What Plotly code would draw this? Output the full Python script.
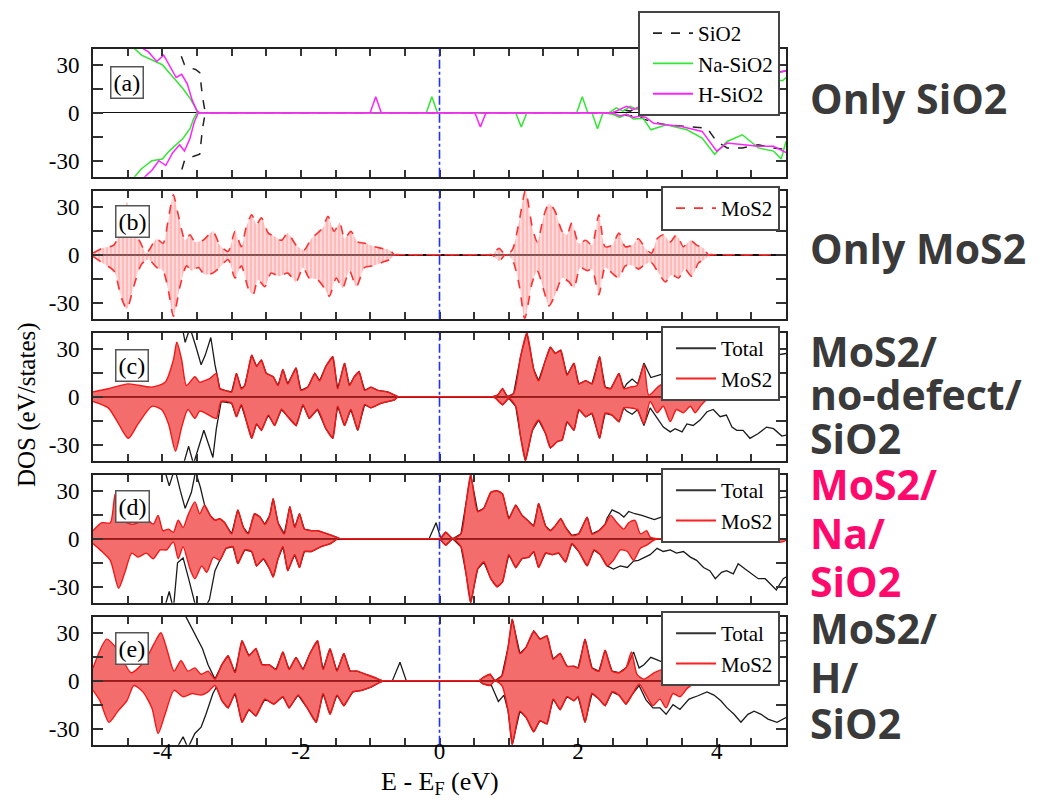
import plotly.graph_objects as go

# ---------------- axis ticks ----------------
x_tick_vals = [-5, -4.5, -4, -3.5, -3, -2.5, -2, -1.5, -1, -0.5, 0, 0.5, 1, 1.5, 2, 2.5, 3, 3.5, 4, 4.5, 5]
x_tick_text = ["", "", "-4", "", "", "", "-2", "", "", "", "0", "", "", "", "2", "", "", "", "4", "", ""]
y_tick_vals = [-30, -15, 0, 15, 30]
y_tick_text = ["-30", "", "0", "", "30"]
panel_labels = ["(a)", "(b)", "(c)", "(d)", "(e)"]
side_text = [
    ["Only SiO2"],
    ["Only MoS2"],
    ["MoS2/", "no-defect/", "SiO2"],
    ["MoS2/", "Na/", "SiO2"],
    ["MoS2/", "H/", "SiO2"],
]

# ---------------- panel (a): SiO2 slabs (E, DOS) ----------------
a_sio2_up = [(-5.0, 70), (-3.82, 45), (-3.75, 38), (-3.68, 30), (-3.60, 28), (-3.52, 27), (-3.46, 25),
             (-3.42, 10), (-3.38, 0), (2.5, 0), (2.62, 2), (2.75, 1), (2.85, 3), (2.95, 6), (3.1, 10),
             (3.3, 12), (3.6, 14), (3.9, 18), (4.2, 22), (4.6, 24), (5.0, 26)]
a_sio2_dn = [(-5.0, -70), (-3.82, -45), (-3.75, -40), (-3.68, -30), (-3.60, -28), (-3.52, -27), (-3.46, -26),
             (-3.42, -10), (-3.38, 0), (2.5, 0), (2.62, -1), (2.75, -2), (2.85, -1), (2.95, -4), (3.05, -5.5),
             (3.27, -7.6), (3.57, -8.6), (3.86, -9.6), (4.0, -18), (4.15, -22), (4.37, -22), (4.6, -20),
             (4.82, -22), (5.0, -23)]
a_na_up = [(-5.0, 70), (-4.45, 42), (-4.3, 36), (-4.15, 33), (-4.0, 30), (-3.9, 25), (-3.8, 20), (-3.7, 15),
           (-3.6, 9), (-3.52, 3), (-3.48, 0), (-0.19, 0), (-0.11, 10), (-0.03, 0), (1.98, 0), (2.06, 10),
           (2.14, 0), (2.45, 0), (2.55, 3), (2.65, 1), (2.75, 4), (2.85, 2), (2.95, 5), (3.1, 9), (3.4, 12),
           (3.8, 16), (4.2, 20), (4.6, 22), (4.95, 20), (5.0, 22)]
a_na_dn = [(-5.0, -70), (-4.45, -42), (-4.3, -35), (-4.15, -30), (-4.0, -29), (-3.9, -24), (-3.8, -20),
           (-3.7, -16), (-3.6, -10), (-3.55, -4), (-3.5, 0), (1.10, 0), (1.18, -9), (1.26, 0), (2.20, 0),
           (2.28, -10), (2.36, 0), (2.5, -1), (2.6, -3), (2.7, -1), (2.8, -4), (2.94, -3.5), (3.05, -10.7),
           (3.27, -7.6), (3.57, -10.7), (3.79, -15.8), (3.97, -26), (4.15, -18), (4.37, -13.8), (4.6, -22),
           (4.82, -24), (4.93, -29), (5.0, -18)]
a_h_up = [(-5.0, 70), (-4.35, 42), (-4.2, 38), (-4.08, 32), (-3.98, 36), (-3.88, 28), (-3.80, 22), (-3.72, 24),
          (-3.64, 18), (-3.57, 8), (-3.50, 1), (-3.46, 0), (-1.00, 0), (-0.92, 10), (-0.84, 0), (2.5, 0),
          (2.6, 2), (2.7, 4), (2.8, 2), (2.9, 4), (3.0, 6), (3.2, 10), (3.5, 12), (3.9, 18), (4.3, 22),
          (4.7, 24), (5.0, 26)]
a_h_dn = [(-5.0, -70), (-4.3, -42), (-4.15, -36), (-4.05, -30), (-3.95, -33), (-3.85, -25), (-3.75, -20),
          (-3.68, -24), (-3.6, -16), (-3.54, -6), (-3.48, 0), (0.51, 0), (0.59, -9), (0.67, 0), (2.5, 0),
          (2.6, -2), (2.7, -1), (2.8, -3), (2.9, -2), (2.98, -3), (3.09, -6.6), (3.27, -7.6), (3.49, -8.6),
          (3.79, -11.7), (4.0, -24), (4.15, -19), (4.37, -20), (4.6, -21), (4.82, -21), (5.0, -25)]

# ---------------- panel (b): isolated MoS2 ----------------
b_mos2_up = [(-5.0, 1), (-4.87, 4), (-4.70, 6), (-4.59, 17), (-4.51, 33), (-4.42, 15.6), (-4.32, 8), (-4.23, 1),
             (-4.08, 10), (-3.99, 7), (-3.91, 23), (-3.84, 37.5), (-3.77, 25), (-3.67, 9), (-3.60, 12.5),
             (-3.53, 8), (-3.41, 9), (-3.27, 14.6), (-3.17, 6), (-3.05, 2), (-2.95, 14.6), (-2.86, 5),
             (-2.79, 17), (-2.71, 25), (-2.64, 19), (-2.57, 23), (-2.47, 13.5), (-2.38, 11.5), (-2.28, 9),
             (-2.19, 13.5), (-2.07, 6), (-1.95, 3), (-1.85, 10), (-1.76, 13.5), (-1.68, 17), (-1.61, 24),
             (-1.52, 14.6), (-1.44, 20), (-1.37, 10), (-1.28, 14.6), (-1.18, 8), (-1.06, 7), (-0.94, 5),
             (-0.84, 4), (-0.72, 3), (-0.65, 0), (-0.60, 0),
             (0.71, 0), (0.76, 0), (0.86, 4), (0.95, 0), (1.05, 3), (1.15, 21), (1.24, 40), (1.34, 17),
             (1.41, 8), (1.51, 25), (1.58, 32), (1.67, 27), (1.77, 14.6), (1.84, 12.5), (1.91, 20), (2.01, 7),
             (2.11, 9), (2.20, 6), (2.30, 25), (2.39, 5), (2.49, 6), (2.59, 13.5), (2.68, 5), (2.78, 6),
             (2.87, 10), (2.97, 4), (3.06, 1), (3.14, 10), (3.23, 12.5), (3.33, 8), (3.42, 12.5), (3.52, 5),
             (3.62, 9), (3.71, 6), (3.81, 4), (3.88, 0), (3.93, 0), (5.0, 0)]
b_mos2_dn = [(-5.0, -1), (-4.87, -5), (-4.70, -10), (-4.59, -27), (-4.51, -34), (-4.42, -21), (-4.30, -6),
             (-4.20, -3), (-4.08, -8), (-3.99, -10), (-3.91, -23), (-3.84, -38.5), (-3.74, -19), (-3.65, -7),
             (-3.58, -10), (-3.48, -8), (-3.39, -12.5), (-3.27, -11.5), (-3.17, -8), (-3.05, -3), (-2.95, -14.6),
             (-2.86, -7), (-2.76, -21), (-2.69, -25), (-2.62, -15.6), (-2.52, -20), (-2.43, -11.5),
             (-2.31, -13.5), (-2.19, -11.5), (-2.07, -17), (-1.97, -8), (-1.88, -14.6), (-1.76, -15.6),
             (-1.66, -21), (-1.59, -26), (-1.49, -14.6), (-1.40, -21), (-1.30, -10), (-1.20, -20), (-1.08, -8),
             (-0.96, -7), (-0.84, -5), (-0.72, -3), (-0.63, 0), (-0.58, 0),
             (0.71, 0), (0.76, 0), (0.86, -4), (0.95, 0), (1.05, -3), (1.15, -19), (1.23, -40), (1.34, -17),
             (1.41, -10), (1.51, -23), (1.58, -32), (1.67, -25), (1.77, -14.6), (1.87, -17), (1.94, -21),
             (2.03, -8), (2.13, -10), (2.20, -9), (2.30, -25), (2.39, -8), (2.49, -11.5), (2.59, -14.6),
             (2.68, -7), (2.80, -7), (2.87, -9), (2.97, -6), (3.06, -5), (3.16, -11.5), (3.26, -17),
             (3.35, -12.5), (3.45, -14.6), (3.54, -9), (3.64, -13.5), (3.74, -5), (3.83, -3), (3.90, 0),
             (3.95, 0), (5.0, 0)]

# ---------------- panel (c): MoS2 / no-defect / SiO2 ----------------
c_mos2_up = [(-5.0, 3), (-4.78, 5), (-4.49, 8), (-4.15, 6), (-3.96, 9), (-3.84, 23), (-3.79, 34), (-3.72, 23),
             (-3.65, 7), (-3.53, 12.5), (-3.46, 9), (-3.39, 10), (-3.31, 11.5), (-3.22, 14.6), (-3.17, 5),
             (-3.10, 4), (-3.00, 3), (-2.93, 14.6), (-2.86, 5), (-2.81, 7), (-2.71, 26), (-2.64, 19),
             (-2.57, 23), (-2.50, 14.6), (-2.40, 12.5), (-2.33, 7), (-2.26, 17), (-2.19, 8), (-2.07, 18),
             (-2.00, 4), (-1.90, 6), (-1.80, 14.6), (-1.73, 10), (-1.64, 19), (-1.54, 25), (-1.47, 5),
             (-1.37, 21), (-1.30, 7), (-1.23, 12.5), (-1.16, 15.6), (-1.08, 4), (-0.99, 6), (-0.89, 4),
             (-0.75, 3), (-0.65, 1), (-0.60, 0), (-0.55, 0),
             (0.72, 0), (0.77, 0), (0.84, 1), (0.91, 5), (0.98, 0), (1.07, 2), (1.17, 25), (1.26, 40),
             (1.36, 17), (1.43, 10), (1.53, 23), (1.60, 31), (1.67, 27), (1.75, 29), (1.84, 13.5), (1.94, 21),
             (2.01, 8), (2.11, 10), (2.20, 8), (2.31, 25), (2.39, 6), (2.47, 5), (2.59, 14.6), (2.66, 5),
             (2.75, 6), (2.85, 7), (2.95, 20), (3.02, 1), (3.15, 6), (3.3, 10), (3.45, 6), (3.6, 8), (3.75, 4),
             (3.9, 1), (3.95, 0), (4.0, 0), (5.0, 0)]
c_mos2_dn = [(-5.0, -3), (-4.78, -7), (-4.63, -17), (-4.49, -26), (-4.35, -17), (-4.15, -6), (-4.01, -8),
             (-3.91, -17), (-3.81, -34), (-3.72, -19), (-3.63, -8), (-3.53, -13.5), (-3.46, -9), (-3.39, -10),
             (-3.29, -12.5), (-3.22, -13.5), (-3.15, -3), (-3.00, -4), (-2.93, -12.5), (-2.86, -5), (-2.71, -26),
             (-2.64, -17), (-2.57, -21), (-2.47, -11.5), (-2.38, -18), (-2.28, -8), (-2.19, -12.5), (-2.07, -18),
             (-1.97, -5), (-1.88, -13.5), (-1.76, -8), (-1.64, -20), (-1.54, -26), (-1.47, -6), (-1.37, -18),
             (-1.28, -8), (-1.18, -21), (-1.08, -5), (-0.99, -7), (-0.84, -4), (-0.65, -2), (-0.60, 0),
             (-0.55, 0),
             (0.72, 0), (0.77, 0), (0.81, -1), (0.91, -5), (1.00, -1), (1.10, -6), (1.17, -25), (1.24, -40),
             (1.34, -21), (1.43, -14.6), (1.53, -23), (1.60, -32), (1.70, -28), (1.77, -27), (1.84, -15.6),
             (1.94, -21), (2.01, -8), (2.11, -12.5), (2.20, -10.4), (2.31, -26), (2.39, -10.4), (2.49, -11.5),
             (2.59, -15.6), (2.66, -7), (2.75, -7), (2.85, -8), (2.95, -17), (3.04, -3), (3.14, -10),
             (3.23, -6), (3.33, -15.6), (3.42, -8), (3.52, -10), (3.62, -6), (3.69, -10), (3.78, -5),
             (3.88, -1), (3.95, 0), (4.0, 0), (5.0, 0)]
c_total_up = [(-5.0, 80), (-3.80, 48), (-3.72, 45), (-3.67, 34), (-3.60, 43), (-3.52, 32), (-3.44, 20),
              (-3.38, 26), (-3.30, 37), (-3.24, 20), (-3.18, 6),
              (2.70, 8), (2.78, 11), (2.86, 8), (2.95, 21), (3.05, 12), (3.2, 14), (3.4, 18), (3.6, 16),
              (3.8, 20), (4.0, 22), (4.3, 25), (4.6, 24), (5.0, 27)]
c_total_up_same_as_mos2 = [(-3.17, 2.69)]
c_total_dn = [(-5.0, -80), (-3.80, -48), (-3.70, -43), (-3.62, -31), (-3.55, -42), (-3.45, -28), (-3.40, -21),
              (-3.33, -30), (-3.27, -38), (-3.22, -20), (-3.17, -6),
              (2.70, -9), (2.78, -11), (2.86, -8), (2.95, -18), (3.04, -7), (3.14, -13), (3.23, -19),
              (3.33, -22), (3.40, -20), (3.50, -22), (3.57, -17), (3.66, -18), (3.76, -14.6), (3.86, -9.4),
              (3.95, -8), (4.05, -12.5), (4.14, -11.5), (4.22, -19), (4.29, -21), (4.38, -21), (4.48, -26),
              (4.60, -23), (4.72, -19), (4.82, -20), (4.94, -24.6), (5.0, -24)]
c_total_dn_same_as_mos2 = [(-3.16, 2.69)]

# ---------------- panel (d): MoS2 / Na / SiO2 ----------------
d_mos2_up = [(-5.0, 5), (-4.87, 10), (-4.75, 10), (-4.68, 28), (-4.59, 12), (-4.44, 9), (-4.35, 10),
             (-4.23, 12.5), (-4.13, 9), (-4.06, 14.6), (-3.99, 5), (-3.91, 6), (-3.84, 4), (-3.77, 11.5),
             (-3.70, 7), (-3.63, 14.6), (-3.53, 23), (-3.46, 15.6), (-3.39, 21), (-3.31, 14.6), (-3.24, 11.5),
             (-3.17, 12.5), (-3.10, 10), (-3.00, 3), (-2.91, 18), (-2.83, 7), (-2.76, 3), (-2.67, 15.6),
             (-2.59, 13.5), (-2.52, 9), (-2.45, 14.6), (-2.40, 25), (-2.33, 10), (-2.24, 3), (-2.16, 20),
             (-2.09, 7), (-2.02, 15.6), (-1.95, 6), (-1.85, 5), (-1.76, 5), (-1.61, 3), (-1.49, 1), (-1.44, 0),
             (-1.39, 0),
             (-0.05, 0), (0.0, 0), (0.09, 4), (0.19, 0), (0.31, 3), (0.38, 21), (0.45, 40), (0.55, 17),
             (0.64, 19), (0.74, 29), (0.83, 30), (0.91, 28), (1.00, 12.5), (1.10, 21), (1.19, 14.6),
             (1.27, 11.5), (1.36, 8), (1.43, 22), (1.53, 8), (1.60, 5), (1.67, 8), (1.75, 12.5), (1.82, 7),
             (1.91, 2), (2.01, 3), (2.13, 13.5), (2.20, 3), (2.30, 5), (2.39, 9), (2.47, 14.6), (2.56, 10),
             (2.66, 6), (2.73, 10), (2.82, 11.5), (2.90, 3), (2.99, 5), (3.04, 1), (3.15, 0), (3.2, 0),
             (5.0, 0)]
d_mos2_dn = [(-5.0, -3), (-4.87, -8), (-4.75, -13.5), (-4.63, -31), (-4.54, -21), (-4.44, -9), (-4.35, -11.5),
             (-4.23, -9), (-4.13, -12.5), (-4.03, -7), (-3.94, -7), (-3.84, -2), (-3.77, -12.5), (-3.70, -5),
             (-3.60, -19), (-3.53, -25), (-3.43, -17), (-3.36, -21), (-3.26, -11.5), (-3.17, -13.5),
             (-3.08, -6), (-2.98, -5), (-2.91, -15.6), (-2.81, -7), (-2.71, -8), (-2.64, -17), (-2.54, -12.5),
             (-2.45, -19), (-2.40, -24), (-2.33, -12.5), (-2.26, -5), (-2.19, -20), (-2.09, -10), (-2.02, -18),
             (-1.95, -8), (-1.85, -8), (-1.71, -5), (-1.57, -3), (-1.47, 0), (-1.42, 0),
             (-0.05, 0), (0.0, 0), (0.09, -4), (0.19, 0), (0.31, -5), (0.38, -21), (0.45, -40), (0.55, -19),
             (0.64, -14.6), (0.74, -25), (0.83, -30), (0.91, -27), (1.00, -10), (1.10, -18), (1.19, -12.5),
             (1.29, -11.5), (1.36, -8), (1.43, -18), (1.53, -9), (1.63, -10), (1.72, -9), (1.82, -14.6),
             (1.91, -3), (2.01, -8), (2.13, -17), (2.23, -7), (2.32, -10), (2.42, -17), (2.51, -13.5),
             (2.61, -7), (2.71, -8), (2.80, -13.5), (2.90, -6), (2.99, -4), (3.09, -1), (3.15, 0), (3.2, 0),
             (4.70, 0), (4.75, 0), (4.85, -2), (4.95, -2), (5.0, -1)]
d_total_up = [(-5.0, 75), (-3.98, 45), (-3.90, 33), (-3.82, 44), (-3.74, 30), (-3.67, 19), (-3.58, 29),
              (-3.52, 42), (-3.45, 32), (-3.40, 22),
              (-0.15, 0), (-0.05, 10), (0.02, 0),
              (2.42, 13), (2.49, 18), (2.59, 16), (2.66, 13.5), (2.73, 17), (2.82, 15.6), (2.92, 14.6),
              (2.99, 13.5), (3.1, 12), (3.3, 15), (3.6, 18), (3.9, 20), (4.2, 22), (4.6, 24), (5.0, 26)]
d_total_up_same_as_mos2 = [(-3.39, -0.16), (0.03, 2.41)]
d_total_dn = [(-5.0, -75), (-3.98, -45), (-3.90, -33), (-3.84, -44), (-3.78, -15), (-3.70, -12), (-3.62, -25),
              (-3.52, -42), (-3.42, -46), (-3.32, -38), (-3.24, -20), (-3.18, -14),
              (2.51, -19), (2.61, -17), (2.71, -18), (2.80, -14), (2.87, -13.5), (2.95, -12), (3.04, -10),
              (3.14, -6), (3.23, -8), (3.33, -7), (3.42, -9), (3.52, -8), (3.62, -11.5), (3.71, -13.5),
              (3.81, -18), (3.90, -20), (3.98, -25), (4.07, -21), (4.14, -20), (4.24, -22), (4.31, -15.6),
              (4.41, -19), (4.50, -22), (4.60, -25), (4.70, -25), (4.77, -28), (4.86, -32), (4.96, -25),
              (5.0, -24)]
d_total_dn_same_as_mos2 = [(-3.17, 2.45)]

# ---------------- panel (e): MoS2 / H / SiO2 ----------------
e_mos2_up = [(-5.0, 8), (-4.80, 26), (-4.64, 19), (-4.45, 5), (-4.25, 12.5), (-4.12, 23), (-4.02, 30),
             (-3.93, 19), (-3.83, 6), (-3.73, 12.5), (-3.63, 6), (-3.53, 8), (-3.44, 4), (-3.34, 6), (-3.24, 1),
             (-3.14, 10), (-3.05, 15.6), (-2.95, 5), (-2.85, 25), (-2.75, 15.6), (-2.65, 20), (-2.56, 10),
             (-2.46, 10), (-2.36, 7), (-2.26, 18), (-2.17, 7), (-2.07, 14.6), (-1.97, 7), (-1.87, 17),
             (-1.76, 25), (-1.68, 7), (-1.58, 20), (-1.48, 6), (-1.38, 17), (-1.29, 6), (-1.19, 6), (-1.06, 4),
             (-0.93, 2), (-0.83, 0), (-0.78, 0),
             (0.52, 0), (0.57, 0), (0.63, 2), (0.73, 4), (0.80, 0), (0.90, 3), (0.99, 21), (1.05, 38.5),
             (1.16, 17), (1.25, 21), (1.36, 31), (1.45, 26), (1.55, 28), (1.64, 13.5), (1.74, 17), (1.84, 9),
             (1.94, 9), (2.00, 8), (2.10, 26), (2.20, 8), (2.30, 6), (2.39, 19), (2.49, 6), (2.59, 5),
             (2.69, 8), (2.77, 18), (2.85, 4), (2.95, 1), (3.1, 5), (3.3, 8), (3.5, 5), (3.7, 2), (3.75, 0),
             (3.8, 0), (5.0, 0)]
e_mos2_dn = [(-5.0, -6), (-4.90, -12.5), (-4.77, -26), (-4.64, -19), (-4.51, -12.5), (-4.41, -3), (-4.28, -7),
             (-4.15, -17), (-4.06, -33), (-3.96, -21), (-3.83, -6), (-3.70, -10), (-3.57, -8), (-3.44, -9),
             (-3.34, -7), (-3.24, -3), (-3.14, -12.5), (-3.05, -17), (-2.95, -8), (-2.85, -26), (-2.75, -18),
             (-2.65, -22), (-2.52, -11.5), (-2.39, -14.6), (-2.26, -10), (-2.17, -17), (-2.04, -9),
             (-1.91, -17), (-1.78, -26), (-1.68, -8), (-1.58, -21), (-1.48, -9), (-1.38, -15.6), (-1.25, -7),
             (-1.12, -6), (-0.99, -4), (-0.86, -1), (-0.80, 0), (-0.75, 0),
             (0.52, 0), (0.57, 0), (0.63, -2), (0.73, -3), (0.80, 0), (0.90, -3), (0.99, -19), (1.05, -40),
             (1.16, -19), (1.25, -23), (1.36, -32), (1.45, -25), (1.55, -27), (1.64, -11.5), (1.74, -18),
             (1.84, -10), (1.94, -12.5), (2.00, -10), (2.10, -26), (2.20, -8), (2.30, -11.5), (2.39, -15.6),
             (2.49, -7), (2.59, -9), (2.69, -14.6), (2.79, -8), (2.88, -2), (2.98, -9), (3.08, -15.6),
             (3.18, -11.5), (3.27, -17), (3.37, -8), (3.47, -10), (3.57, -5), (3.66, -2), (3.73, 0), (3.78, 0),
             (5.0, 0)]
e_total_up = [(-5.0, 80), (-3.85, 46), (-3.78, 41), (-3.72, 44), (-3.66, 40), (-3.58, 33), (-3.50, 27),
              (-3.42, 20), (-3.34, 10), (-3.27, 3),
              (-0.68, 0), (-0.57, 11.5), (-0.48, 0),
              (2.72, 10), (2.80, 18), (2.88, 8), (2.95, 10), (3.05, 14.6), (3.2, 12), (3.4, 16), (3.6, 18),
              (3.9, 20), (4.2, 22), (4.6, 24), (5.0, 25)]
e_total_up_same_as_mos2 = [(-3.26, -0.70), (-0.47, 2.70)]
e_total_dn = [(-5.0, -80), (-3.85, -46), (-3.79, -42), (-3.70, -35), (-3.63, -42), (-3.53, -33), (-3.44, -29),
              (-3.37, -21), (-3.27, -8), (-3.22, -4),
              (0.75, -3), (0.85, -13), (0.93, -9),
              (2.88, -3), (2.98, -12), (3.08, -17), (3.18, -17), (3.27, -21), (3.37, -15), (3.47, -18),
              (3.60, -11.5), (3.73, -9.4), (3.86, -7), (3.96, -9), (4.06, -12.5), (4.15, -17), (4.25, -21),
              (4.35, -26), (4.45, -21), (4.54, -19), (4.64, -21), (4.74, -24), (4.87, -26), (5.0, -23)]
e_total_dn_same_as_mos2 = [(-3.21, 0.74), (0.95, 2.86)]


# ---------------- helpers ----------------
def xy(pairs):
    return [p[0] for p in pairs], [p[1] for p in pairs]


def total_curve(own, mos2, windows):
    pts = list(own) + [p for p in mos2 if any(lo <= p[0] <= hi for lo, hi in windows)]
    pts.sort(key=lambda p: p[0])
    return pts


W, H = 1040, 805
X0, X1 = 85, 778
PANEL_TOP = [40.7, 182.7, 324.7, 466.7, 608.7]
PANEL_H = 128

SERIF = "Liberation Serif"
RED = "#f01818"
FILL = "rgba(238,40,40,0.68)"
BLACK = "#1a1a1a"

fig = go.Figure()


def ax(k):
    return ("x" if k == 1 else f"x{k}"), ("y" if k == 1 else f"y{k}")


def lg(k):
    return "legend" if k == 1 else f"legend{k}"


# ----- panel a -----
xa, ya = ax(1)
for pairs, col, dash in [(a_sio2_up, "#222222", "dash"), (a_sio2_dn, "#222222", "dash"),
                         (a_na_up, "#33e633", "solid"), (a_na_dn, "#33e633", "solid"),
                         (a_h_up, "#ff22ff", "solid"), (a_h_dn, "#ff22ff", "solid")]:
    ex, dv = xy(pairs)
    fig.add_trace(go.Scatter(x=ex, y=dv, mode="lines", xaxis=xa, yaxis=ya, showlegend=False,
                             line=dict(color=col, width=1.5, dash=dash), hoverinfo="skip"))
for name, col, dash in [("SiO2", "#222222", "dash"), ("Na-SiO2", "#33e633", "solid"),
                        ("H-SiO2", "#ff22ff", "solid")]:
    fig.add_trace(go.Scatter(x=[None], y=[None], mode="lines", name=name, xaxis=xa, yaxis=ya,
                             legend=lg(1), line=dict(color=col, width=1.8, dash=dash)))

# ----- panel b -----
xb, yb = ax(2)
for pairs in (b_mos2_up, b_mos2_dn):
    ex, dv = xy(pairs)
    fig.add_trace(go.Scatter(x=ex, y=dv, mode="lines", xaxis=xb, yaxis=yb, showlegend=False,
                             fill="tozeroy", fillcolor="rgba(255,170,170,0.45)",
                             fillpattern=dict(shape="|", fgcolor="rgba(255,90,90,0.55)", size=4,
                                              solidity=0.45, fillmode="overlay"),
                             line=dict(color="#ff3030", width=1.6, dash="dash", shape="spline", smoothing=0.7),
                             hoverinfo="skip"))
fig.add_trace(go.Scatter(x=[None], y=[None], mode="lines", name="MoS2", xaxis=xb, yaxis=yb,
                         legend=lg(2), line=dict(color="#ff3030", width=1.8, dash="dash")))

# ----- panels c, d, e -----
panels = [
    (3, c_mos2_up, c_mos2_dn, c_total_up, c_total_up_same_as_mos2, c_total_dn, c_total_dn_same_as_mos2),
    (4, d_mos2_up, d_mos2_dn, d_total_up, d_total_up_same_as_mos2, d_total_dn, d_total_dn_same_as_mos2),
    (5, e_mos2_up, e_mos2_dn, e_total_up, e_total_up_same_as_mos2, e_total_dn, e_total_dn_same_as_mos2),
]
for k, mu, md, tu, tuw, td, tdw in panels:
    xk, yk = ax(k)
    for own, mos2, win in ((tu, mu, tuw), (td, md, tdw)):
        ex, dv = xy(total_curve(own, mos2, win))
        fig.add_trace(go.Scatter(x=ex, y=dv, mode="lines", xaxis=xk, yaxis=yk, showlegend=False,
                                 line=dict(color=BLACK, width=1.3), hoverinfo="skip"))
    for pairs in (mu, md):
        ex, dv = xy(pairs)
        fig.add_trace(go.Scatter(x=ex, y=dv, mode="lines", xaxis=xk, yaxis=yk, showlegend=False,
                                 fill="tozeroy", fillcolor=FILL,
                                 line=dict(color=RED, width=1.4, shape="spline", smoothing=0.7),
                                 hoverinfo="skip"))
    fig.add_trace(go.Scatter(x=[None], y=[None], mode="lines", name="Total", xaxis=xk, yaxis=yk,
                             legend=lg(k), line=dict(color="#333333", width=2)))
    fig.add_trace(go.Scatter(x=[None], y=[None], mode="lines", name="MoS2", xaxis=xk, yaxis=yk,
                             legend=lg(k), line=dict(color="#ff2020", width=2)))

# ---------------- layout ----------------
layout = dict(
    width=W, height=H, template="none",
    margin=dict(l=0, r=0, t=0, b=0),
    paper_bgcolor="white", plot_bgcolor="white",
    font=dict(family=SERIF, size=21, color="black"),
    showlegend=True,
)
xdom = [X0 / W, X1 / W]
legend_tops = [3, 178, 318, 460, 603]
for k in range(1, 6):
    top = PANEL_TOP[k - 1]
    ydom = [1 - (top + PANEL_H) / H, 1 - top / H]
    xs = "xaxis" if k == 1 else f"xaxis{k}"
    ys = "yaxis" if k == 1 else f"yaxis{k}"
    layout[xs] = dict(domain=xdom, anchor=ax(k)[1], range=[-5, 5], tickmode="array",
                      tickvals=x_tick_vals, ticktext=x_tick_text, showticklabels=(k == 5),
                      ticks="inside", ticklen=7, tickwidth=1.5, tickcolor="#333",
                      showline=True, linewidth=2, linecolor="#222", mirror="allticks",
                      showgrid=False, zeroline=False, automargin=False,
                      tickfont=dict(family=SERIF, size=23, color="black"), ticklabelstandoff=-15)
    layout[ys] = dict(domain=ydom, anchor=ax(k)[0], range=[-40, 40], tickmode="array",
                      tickvals=y_tick_vals, ticktext=y_tick_text,
                      ticks="inside", ticklen=10, tickwidth=1.5, tickcolor="#333",
                      showline=True, linewidth=2, linecolor="#222", mirror="allticks",
                      showgrid=False, zeroline=True, zerolinecolor="#111",
                      zerolinewidth=(1 if k == 1 else 2), automargin=False,
                      tickfont=dict(family=SERIF, size=23, color="black"), ticklabelstandoff=7)
    layout[lg(k)] = dict(x=(X1 - 6) / W, xanchor="right", y=1 - legend_tops[k - 1] / H, yanchor="top",
                         bgcolor="white", bordercolor="#444", borderwidth=2,
                         font=dict(family=SERIF, size=21, color="black"),
                         itemwidth=40, indentation=8, tracegroupgap=0, traceorder="normal")

fig.update_layout(**layout)

# Fermi level lines
for k in range(1, 6):
    xk, yk = ax(k)
    fig.add_shape(type="line", xref=xk, yref=f"{yk} domain", x0=0, x1=0, y0=0, y1=1,
                  line=dict(color="#2030ff", width=1.6, dash="dashdot"), layer="above")

# panel labels
label_x = [119, 124, 124, 124, 124]
label_centers = [75, 214, 357, 498, 640]
for k in range(5):
    fig.add_annotation(text=panel_labels[k], xref="paper", yref="paper", x=label_x[k] / W,
                       y=1 - label_centers[k] / H, xanchor="center", yanchor="middle", showarrow=False,
                       font=dict(family=SERIF, size=24, color="black"), bgcolor="white",
                       bordercolor="#555", borderwidth=1.5, borderpad=2)

# axis titles
fig.add_annotation(text="DOS (eV/states)", xref="paper", yref="paper", x=19 / W, y=1 - 397 / H,
                   textangle=-90, showarrow=False, xanchor="center", yanchor="middle",
                   font=dict(family=SERIF, size=25, color="black"))
fig.add_annotation(text="E - E<sub>F</sub> (eV)", xref="paper", yref="paper", x=432 / W, y=1 - 775 / H,
                   showarrow=False, xanchor="center", yanchor="middle",
                   font=dict(family=SERIF, size=26, color="black"))

# right-side captions
side_y = [[90], [240], [343, 386, 430], [476, 525, 573], [620, 669, 715]]
for k in range(5):
    col = "#ff0a6c" if k == 3 else "#3a3a3a"
    for txt, yy in zip(side_text[k], side_y[k]):
        fig.add_annotation(text=txt, xref="paper", yref="paper", x=800 / W, y=1 - yy / H,
                           xanchor="left", yanchor="middle", showarrow=False,
                           font=dict(family="Open Sans", size=41, color=col, weight="bold"))

fig.write_html("out.html")
